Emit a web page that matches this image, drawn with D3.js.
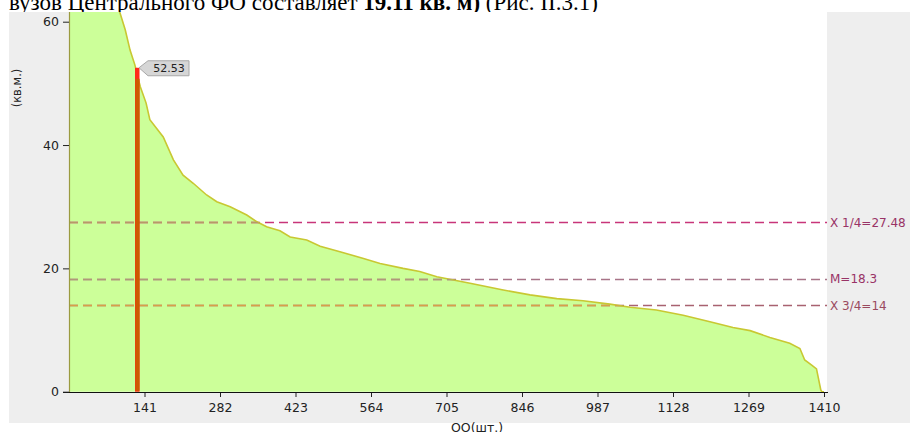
<!DOCTYPE html>
<html><head><meta charset="utf-8">
<script src="https://cdn.jsdelivr.net/npm/d3@7/dist/d3.min.js"></script>
<style>body{margin:0;background:#fff}svg{display:block}</style>
</head><body>
<svg id="c" width="910" height="432"></svg>
<script>
// Ranks (OO count) and values (кв.м.)
const ranks  = [0, 10, 30, 60, 80, 95, 105, 114, 123, 133, 144, 151, 176, 195, 213, 232, 257, 276, 301, 332, 350, 369, 394, 413, 444, 469, 506, 550, 581, 624, 655, 687, 749, 811, 861, 911, 960, 1010, 1048, 1097, 1147, 1197, 1240, 1272, 1309, 1346, 1365, 1374, 1387, 1396, 1404, 1406, 1410];
const values = [160, 110, 85, 70, 65, 61.5, 58.7, 55.4, 53.0, 49.5, 46.8, 44.1, 41.3, 37.6, 35.1, 33.8, 31.9, 30.8, 30.0, 28.65, 27.6, 26.75, 26.1, 25.1, 24.6, 23.6, 22.7, 21.6, 20.8, 20.0, 19.5, 18.65, 17.6, 16.5, 15.7, 15.1, 14.75, 14.2, 13.7, 13.25, 12.4, 11.35, 10.4, 9.9, 8.8, 7.85, 7.0, 5.15, 4.3, 3.7, 0.3, 0, 0];
const xTicks = [141, 282, 423, 564, 705, 846, 987, 1128, 1269, 1410];
const yTicks = [0, 20, 40, 60];
const refLabels = ["X 1/4=27.48", "M=18.3", "X 3/4=14"];
const refValues = [27.48, 18.3, 14];
const highlightRank = 127;
const highlightValue = 52.53;

const svg = d3.select("#c");
const font = "DejaVu Sans, Verdana, sans-serif";

// heading text (cropped line from document)
const head = svg.append("text").attr("x", 9).attr("y", 10)
  .attr("font-family", "Liberation Serif, Times New Roman, serif").attr("font-size", 23).attr("fill", "#000");
head.append("tspan").text("вузов Центрального ФО составляет ");
head.append("tspan").attr("font-weight", "bold").text("19.11 кв. м)");
head.append("tspan").text(" (Рис. II.3.1)");

// backgrounds
svg.append("rect").attr("x", 9).attr("y", 12).attr("width", 901).attr("height", 411).attr("fill", "#eeeeee");
const L = 69, R = 827, T = 12, B = 392;
svg.append("rect").attr("x", L).attr("y", T).attr("width", R - L).attr("height", B - T).attr("fill", "#fff");

const x = d3.scaleLinear().domain([0, 1410]).range([69, 824]);
const y = d3.scaleLinear().domain([0, 60]).range([391.7, 21.7]);

svg.append("clipPath").attr("id", "plot").append("rect")
  .attr("x", L).attr("y", T).attr("width", R - L).attr("height", B - T);

const pts = ranks.map((r, i) => [r, values[i]]);
const area = d3.area().x(d => x(d[0])).y0(y(0)).y1(d => y(d[1]));
const line = d3.line().x(d => x(d[0])).y(d => y(d[1]));

const g = svg.append("g").attr("clip-path", "url(#plot)");
g.append("path").datum(pts).attr("d", area).attr("fill", "#ccff99");

svg.append("clipPath").attr("id", "areaclip").append("path").datum(pts).attr("d", area);

const whiteCols = ["#c8357a", "#a87488", "#a86270"];
const greenCols = ["#b89868", "#b09878", "#d8a048"];
refValues.forEach((v, i) => {
  g.append("line").attr("x1", L).attr("x2", R).attr("y1", Math.round(y(v)) + 0.5).attr("y2", Math.round(y(v)) + 0.5)
    .attr("stroke", whiteCols[i]).attr("stroke-width", 1.3).attr("stroke-dasharray", "9,5");
  svg.append("line").attr("clip-path", "url(#areaclip)")
    .attr("x1", L).attr("x2", R).attr("y1", Math.round(y(v)) + 0.5).attr("y2", Math.round(y(v)) + 0.5)
    .attr("stroke", greenCols[i]).attr("stroke-width", 1.3).attr("stroke-dasharray", "9,5");
  svg.append("text").attr("x", 830).attr("y", y(v) + 4.5).attr("font-family", font).attr("font-size", 12)
    .attr("fill", i === 2 ? "#9a4a5e" : "#993366").text(refLabels[i]);
});

g.append("path").datum(pts).attr("d", line).attr("fill", "none").attr("stroke", "#c8c832").attr("stroke-width", 1.6);

// left olive edge
svg.append("line").attr("x1", L + 0.5).attr("x2", L + 0.5).attr("y1", T).attr("y2", B).attr("stroke", "#9a9a40").attr("stroke-width", 1.2);

// highlight bar
const hx = x(highlightRank), hy = y(highlightValue);
svg.append("rect").attr("x", hx - 2).attr("y", hy).attr("width", 4.5).attr("height", y(0) - hy).attr("fill", "#ff2a1a");
svg.append("rect").attr("x", hx - 1.5).attr("y", hy + 11).attr("width", 4).attr("height", y(0) - hy - 12).attr("fill", "#cc5a00");

// tooltip
const tx = hx + 2, ty = hy;
svg.append("path")
  .attr("d", `M${tx},${ty} L${tx + 9},${ty - 7} L${tx + 50},${ty - 7} L${tx + 50},${ty + 8} L${tx + 9},${ty + 8} Z`)
  .attr("fill", "#d6d6d6").attr("stroke", "#a8a8a8").attr("stroke-width", 1);
svg.append("text").attr("x", tx + 30).attr("y", ty + 4.5).attr("text-anchor", "middle")
  .attr("font-family", font).attr("font-size", 11).attr("fill", "#222").text(highlightValue.toFixed(2));

// axes
const xAxis = svg.append("g").attr("transform", `translate(0,${B})`)
  .call(d3.axisBottom(x).tickValues(xTicks).tickFormat(d3.format("d")).tickSize(5).tickSizeOuter(0));
xAxis.select(".domain").remove();
svg.append("line").attr("x1", 63).attr("x2", 828).attr("y1", B + 0.5).attr("y2", B + 0.5).attr("stroke", "#111");
const yAxis = svg.append("g").attr("transform", `translate(${L},0)`)
  .call(d3.axisLeft(y).tickValues(yTicks).tickSize(6).tickPadding(4));
yAxis.select(".domain").remove();
[xAxis, yAxis].forEach(a => {
  a.selectAll("text").attr("font-family", font).attr("font-size", 12.5).attr("fill", "#222");
  a.selectAll(".tick line").attr("stroke", "#222");
});
xAxis.selectAll("text").attr("dy", "0.95em");

svg.append("text").attr("transform", "translate(21,88) rotate(-90)").attr("text-anchor", "middle")
  .attr("font-family", font).attr("font-size", 11.5).attr("fill", "#222").text("(кв.м.)");
svg.append("text").attr("x", 451).attr("y", 432).attr("font-family", font).attr("font-size", 12.5)
  .attr("fill", "#222").text("ОО(шт.)");
</script>
</body></html>
